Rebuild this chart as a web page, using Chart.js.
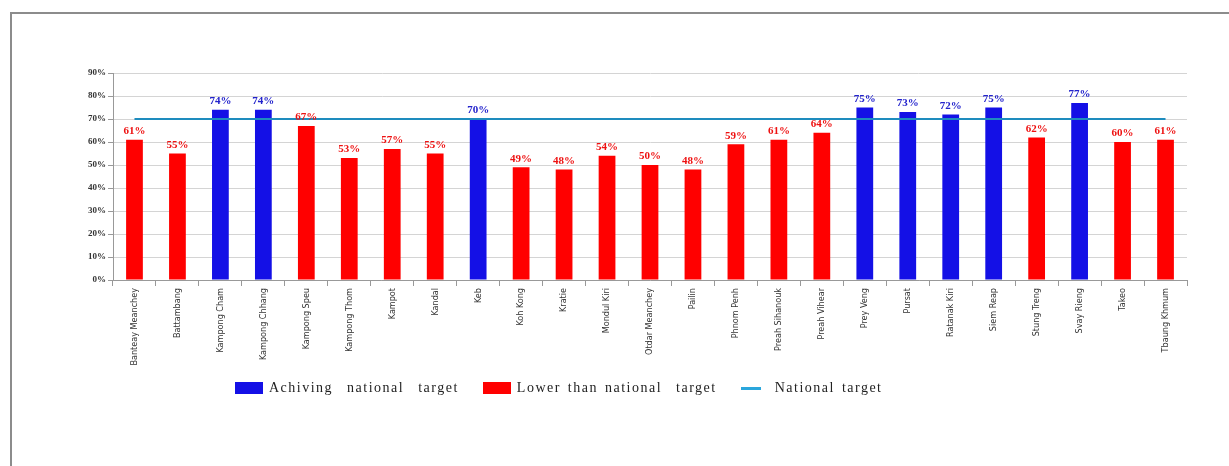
<!DOCTYPE html>
<html>
<head>
<meta charset="utf-8">
<title>Provinces vs national target</title>
<script src="https://cdn.jsdelivr.net/npm/chart.js@4.4.1/dist/chart.umd.min.js"></script>
<style>
    body { margin: 0; background: #fff; }
    #wrap { position: relative; width: 1229px; height: 466px; overflow: hidden; }
    #frame {
        position: absolute; left: 10px; top: 12px; right: -4px; bottom: -4px;
        border-top: 2px solid #8c8c8c; border-left: 2px solid #8c8c8c;
    }
    #chart { position: absolute; left: 0; top: 0; }
    #legend {
        position: absolute; left: 235px; top: 380px;
        display: flex; align-items: center;
        font-family: "Liberation Serif", "Times New Roman", serif;
        font-size: 14px; letter-spacing: 1.5px; word-spacing: 2px; color: #222;
        white-space: pre;
    }
    #legend .item { display: flex; align-items: center; margin-right: 24px; }
    #legend .box { width: 28px; height: 12px; margin-right: 6px; }
    #legend .line { width: 20px; height: 3px; margin-right: 14px; }
</style>
</head>
<body>
<div id="wrap">
    <div id="frame"></div>
    <canvas id="chart" width="1229" height="466"></canvas>
    <div id="legend"></div>
</div>
<script>
const provinces = [
    "Banteay Meanchey", "Battambang", "Kampong Cham", "Kampong Chhang", "Kampong Speu",
    "Kampong Thom", "Kampot", "Kandal", "Keb", "Koh Kong", "Kratie", "Mondul Kiri",
    "Otdar Meanchey", "Pailin", "Phnom Penh", "Preah Sihanouk", "Preah Vihear", "Prey Veng",
    "Pursat", "Ratanak Kiri", "Siem Reap", "Stung Treng", "Svay Rieng", "Takeo", "Tbaung Khmum"
];

const coverage = [61, 55, 74, 74, 67, 53, 57, 55, 70, 49, 48, 54, 50, 48, 59, 61, 64, 75, 73, 72, 75, 62, 77, 60, 61];
const nationalTarget = 70;
const yTicks = [0, 10, 20, 30, 40, 50, 60, 70, 80, 90];

const seriesNames = ["Achiving  national  target", "Lower than national  target", "National target"];
const BLUE = "#1410e6";
const RED = "#ff0000";
const TARGET = "#1e8cbe";

document.addEventListener("DOMContentLoaded", function () {
    const barColors = coverage.map((v) => (v >= nationalTarget ? BLUE : RED));
    const labelColors = coverage.map((v) => (v >= nationalTarget ? "#2222cc" : "#ee1111"));

    // percentage written above every bar
    const valueLabels = {
        id: "valueLabels",
        afterDatasetsDraw(chart) {
            const c = chart.ctx;
            const meta = chart.getDatasetMeta(0);
            c.save();
            c.font = "bold 11px 'Liberation Serif', serif";
            c.textAlign = "center";
            c.textBaseline = "bottom";
            meta.data.forEach((bar, i) => {
                c.fillStyle = labelColors[i];
                c.fillText(coverage[i] + "%", bar.x, bar.y - 3);
            });
            c.restore();
        },
    };

    const ctx = document.getElementById("chart").getContext("2d");
    new Chart(ctx, {
        data: {
            labels: provinces,
            datasets: [
                {
                    type: "bar",
                    label: seriesNames[0],
                    data: coverage,
                    backgroundColor: barColors,
                    barPercentage: 0.39,
                    categoryPercentage: 1,
                    order: 2,
                },
                {
                    type: "line",
                    label: seriesNames[2],
                    data: provinces.map(() => nationalTarget),
                    borderColor: TARGET,
                    borderWidth: 2,
                    pointRadius: 0,
                    order: 1,
                },
            ],
        },
        options: {
            responsive: false,
            animation: false,
            layout: { padding: { left: 0, right: 42, top: 73, bottom: 0 } },
            plugins: { legend: { display: false }, tooltip: { enabled: false } },
            scales: {
                x: {
                    offset: true,
                    grid: { drawOnChartArea: false, offset: true, tickLength: 6, color: "#999" },
                    border: { color: "#999" },
                    ticks: {
                        minRotation: 90,
                        maxRotation: 90,
                        autoSkip: false,
                        padding: 2,
                        color: "#333",
                        font: { family: "'Liberation Sans Narrow', 'Arial Narrow', 'DejaVu Sans Condensed', sans-serif", size: 9 },
                    },
                    afterFit: (s) => { s.height = 186; },
                },
                y: {
                    min: yTicks[0],
                    max: yTicks[yTicks.length - 1],
                    afterBuildTicks: (s) => { s.ticks = yTicks.map((v) => ({ value: v })); },
                    grid: { color: "#d4d4d4", tickLength: 5, tickColor: "#999" },
                    border: { color: "#999" },
                    ticks: {
                        padding: 2,
                        color: "#333",
                        font: { family: "'Liberation Serif', serif", size: 9, weight: "bold" },
                        callback: (v) => v + "%",
                    },
                    afterFit: (s) => { s.width = 113; },
                },
            },
        },
        plugins: [valueLabels],
    });

    // legend underneath the plot
    const legend = document.getElementById("legend");
    [
        { name: seriesNames[0], color: BLUE, kind: "box" },
        { name: seriesNames[1], color: RED, kind: "box" },
        { name: seriesNames[2], color: "#2aa6dc", kind: "line" },
    ].forEach((item) => {
        const el = document.createElement("div");
        el.className = "item";
        el.innerHTML = `<span class="${item.kind}" style="background:${item.color}"></span><span>${item.name}</span>`;
        legend.appendChild(el);
    });
});
</script>
</body>
</html>
